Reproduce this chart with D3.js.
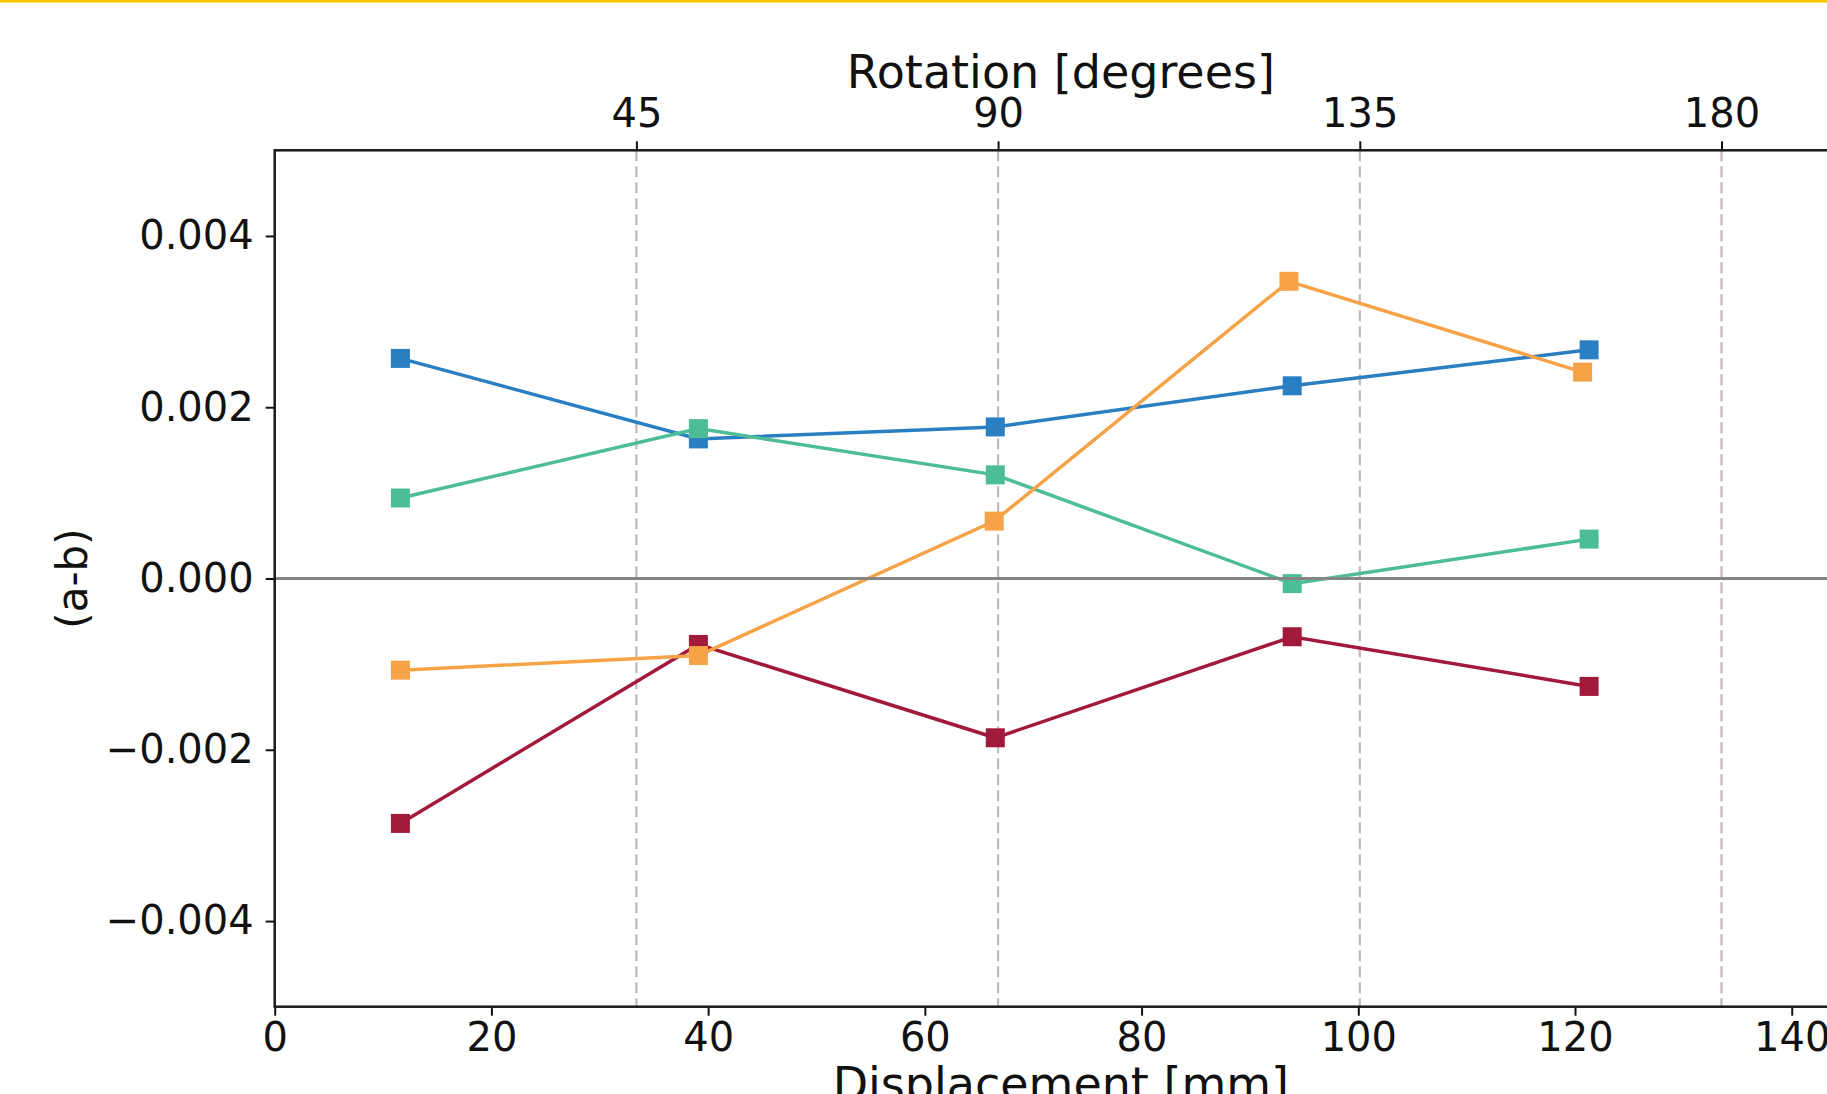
<!DOCTYPE html>
<html>
<head>
<meta charset="utf-8">
<script src="https://cdn.jsdelivr.net/npm/d3@7"></script>
<style>
	body { margin: 0; background: #fff; }
	svg { display: block; font-family: 'DejaVu Sans', sans-serif; }
</style>
</head>
<body>
<svg></svg>
<script>
// ### Data ###
var displacement = [11.6, 39.1, 66.5, 93.9, 121.3]
var displacementOrange = [11.6, 39.1, 66.4, 93.6, 120.7]
var blueVals   = [0.00257, 0.00163, 0.00177, 0.00225, 0.00267]
var greenVals  = [0.00094, 0.00175, 0.00121, -0.00006, 0.00046]
var redVals    = [-0.00286, -0.00077, -0.00186, -0.00068, -0.00126]
var orangeVals = [-0.00107, -0.00090, 0.00067, 0.00347, 0.00241]
var xTicks = [0, 20, 40, 60, 80, 100, 120, 140]
var yTicks = [-0.004, -0.002, 0, 0.002, 0.004]
var rotTicks = [45, 90, 135, 180]

var series = [
	{name: 'blue',   x: displacement,       y: blueVals,   color: '#2a7fc2'},
	{name: 'green',  x: displacement,       y: greenVals,  color: '#4cbd97'},
	{name: 'red',    x: displacement,       y: redVals,    color: '#a11a3c'},
	{name: 'orange', x: displacementOrange, y: orangeVals, color: '#f6a348'}
]

// ### Setting up canvas ###
var width = 1827
var height = 1094
var svg = d3.select('svg')
			.attr('width', width)
			.attr('height', height)

var plot = {left: 274.7, right: 1847, top: 150.3, bottom: 1006.7}
var mmPerDegree = Math.PI * 85 / 360 // rotation axis: 180 deg sits at ~133.5 mm

// ### Scales ###
var xScale = d3.scaleLinear()
				.domain([0, 145.1])
				.range([plot.left, plot.right])
var yScale = d3.scaleLinear()
				.domain([-0.005, 0.005])
				.range([plot.bottom, plot.top])
var rotScale = d3.scaleLinear()
				.domain([0, 180])
				.range([xScale(0), xScale(180 * mmPerDegree)])

// thin yellow rule at the very top
svg.append('rect')
	.attr('x', 0).attr('y', 0)
	.attr('width', width).attr('height', 2.5)
	.attr('fill', '#f7c500')

// ### Dashed rotation guides ###
svg.append('g')
	.selectAll('line')
	.data(rotTicks)
	.enter()
	.append('line')
	.attr('x1', d => rotScale(d))
	.attr('x2', d => rotScale(d))
	.attr('y1', plot.top)
	.attr('y2', plot.bottom)
	.attr('stroke', '#c2b8b8')
	.attr('stroke-width', 2.2)
	.attr('stroke-dasharray', '11,5')

// ### Lines + square markers ###
var line = d3.line()
			.x(d => xScale(d[0]))
			.y(d => yScale(d[1]))
var markerSize = 19

series.forEach(function(s) {
	var pts = s.x.map((x, i) => [x, s.y[i]])
	var g = svg.append('g')
	g.append('path')
		.datum(pts)
		.attr('d', line)
		.attr('fill', 'none')
		.attr('stroke', s.color)
		.attr('stroke-width', 3.5)
	g.selectAll('rect')
		.data(pts)
		.enter()
		.append('rect')
		.attr('x', d => xScale(d[0]) - markerSize / 2)
		.attr('y', d => yScale(d[1]) - markerSize / 2)
		.attr('width', markerSize)
		.attr('height', markerSize)
		.attr('fill', s.color)
})

// zero line
svg.append('line')
	.attr('x1', plot.left)
	.attr('x2', plot.right)
	.attr('y1', yScale(0))
	.attr('y2', yScale(0))
	.attr('stroke', '#858585')
	.attr('stroke-width', 3)

// ### Axes ###
var fmtY = d => d === 0 ? '0.000' : d3.format('.3f')(d).replace('-', '\u2212')

var xAxis = d3.axisBottom(xScale)
				.tickValues(xTicks)
				.tickFormat(d3.format('d'))
				.tickSize(9)
				.tickPadding(7)
var yAxis = d3.axisLeft(yScale)
				.tickValues(yTicks)
				.tickFormat(fmtY)
				.tickSize(9)
				.tickPadding(12)
var topAxis = d3.axisTop(rotScale)
				.tickValues(rotTicks)
				.tickFormat(d3.format('d'))
				.tickSize(9)
				.tickPadding(14)

function styleAxis(g) {
	g.select('.domain').remove()
	g.selectAll('.tick line').attr('stroke', '#111').attr('stroke-width', 2)
	g.selectAll('.tick text')
		.attr('fill', '#111')
		.style('font-size', '40px')
		.style('font-family', "'DejaVu Sans', sans-serif")
}

svg.append('g')
	.attr('transform', `translate(0,${plot.bottom})`)
	.call(xAxis)
	.call(styleAxis)
svg.append('g')
	.attr('transform', `translate(${plot.left},0)`)
	.call(yAxis)
	.call(styleAxis)
svg.append('g')
	.attr('transform', `translate(0,${plot.top})`)
	.call(topAxis)
	.call(styleAxis)

// spines
svg.append('rect')
	.attr('x', plot.left)
	.attr('y', plot.top)
	.attr('width', plot.right - plot.left)
	.attr('height', plot.bottom - plot.top)
	.attr('fill', 'none')
	.attr('stroke', '#1a1a1a')
	.attr('stroke-width', 2.5)

// ### Labels ###
var cx = (plot.left + plot.right) / 2
svg.append('text')
	.attr('x', cx)
	.attr('y', 88)
	.attr('text-anchor', 'middle')
	.style('font-size', '46px')
	.attr('fill', '#111')
	.text('Rotation [degrees]')
svg.append('text')
	.attr('x', cx)
	.attr('y', 1100)
	.attr('text-anchor', 'middle')
	.style('font-size', '46px')
	.attr('fill', '#111')
	.text('Displacement [mm]')
svg.append('text')
	.attr('transform', `translate(87,${yScale(0)}) rotate(-90)`)
	.attr('text-anchor', 'middle')
	.style('font-size', '42px')
	.attr('fill', '#111')
	.text('(a-b)')
</script>
</body>
</html>
